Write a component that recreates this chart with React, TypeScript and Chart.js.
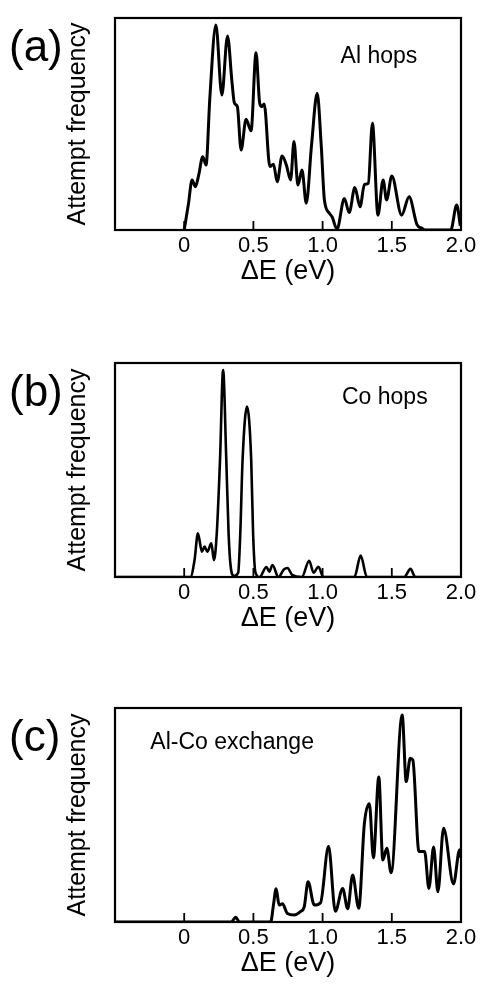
import React, { useEffect, useRef } from "react";
import { Chart, registerables } from "chart.js";

Chart.register(...registerables);

// ---- data (ΔE in eV, attempt frequency as fraction of panel height) ----
const aEnergy = [0.0, 0.03, 0.057, 0.081, 0.105, 0.134, 0.158, 0.185, 0.229, 0.272, 0.313, 0.345, 0.363, 0.384, 0.411, 0.447, 0.483, 0.519, 0.545, 0.559, 0.578, 0.619, 0.645, 0.672, 0.707, 0.738, 0.769, 0.793, 0.822, 0.851, 0.882, 0.92, 0.961, 0.99, 1.013, 1.049, 1.07, 1.104, 1.157, 1.192, 1.233, 1.271, 1.302, 1.33, 1.36, 1.4, 1.437, 1.462, 1.5, 1.571, 1.625, 1.682, 1.718, 1.74, 1.926, 1.969, 1.995];
const aFreq = [0.0, 0.12, 0.236, 0.204, 0.26, 0.346, 0.307, 0.62, 0.967, 0.637, 0.915, 0.7, 0.598, 0.582, 0.377, 0.522, 0.468, 0.836, 0.6, 0.582, 0.594, 0.299, 0.31, 0.228, 0.349, 0.307, 0.236, 0.417, 0.212, 0.283, 0.126, 0.4, 0.645, 0.4, 0.142, 0.079, 0.06, 0.003, 0.149, 0.082, 0.2, 0.11, 0.215, 0.22, 0.503, 0.07, 0.236, 0.142, 0.255, 0.07, 0.157, 0.025, 0.008, 0.0, 0.0, 0.118, 0.02];

const bEnergy = [-0.5, 0.045, 0.075, 0.099, 0.128, 0.147, 0.167, 0.196, 0.215, 0.235, 0.259, 0.281, 0.304, 0.321, 0.336, 0.36, 0.39, 0.405, 0.422, 0.454, 0.484, 0.498, 0.515, 0.545, 0.594, 0.615, 0.638, 0.68, 0.72, 0.746, 0.78, 0.85, 0.903, 0.935, 0.97, 1.005, 1.23, 1.275, 1.32, 1.59, 1.635, 1.67, 2.0];
const bFreq = [0.0, 0.0, 0.08, 0.204, 0.118, 0.142, 0.118, 0.157, 0.079, 0.2, 0.55, 0.967, 0.55, 0.2, 0.048, 0.005, 0.02, 0.2, 0.55, 0.796, 0.55, 0.2, 0.02, 0.0, 0.047, 0.025, 0.056, 0.0, 0.035, 0.042, 0.01, 0.0, 0.076, 0.02, 0.048, 0.0, 0.0, 0.1, 0.0, 0.0, 0.038, 0.0, 0.0];

const cEnergy = [-0.5, 0.34, 0.372, 0.4, 0.625, 0.645, 0.664, 0.686, 0.71, 0.746, 0.794, 0.842, 0.867, 0.895, 0.94, 0.985, 1.043, 1.092, 1.145, 1.181, 1.217, 1.261, 1.302, 1.338, 1.367, 1.406, 1.435, 1.464, 1.495, 1.575, 1.604, 1.633, 1.652, 1.696, 1.737, 1.768, 1.802, 1.833, 1.874, 1.946, 1.99, 2.0];
const cFreq = [0.0, 0.0, 0.022, 0.0, 0.0, 0.08, 0.155, 0.079, 0.085, 0.04, 0.033, 0.05, 0.07, 0.188, 0.079, 0.09, 0.354, 0.05, 0.157, 0.062, 0.22, 0.064, 0.461, 0.553, 0.3, 0.678, 0.29, 0.345, 0.23, 0.967, 0.656, 0.765, 0.757, 0.33, 0.33, 0.157, 0.35, 0.141, 0.438, 0.178, 0.338, 0.3];

const xTickValues = [0, 0.5, 1.0, 1.5, 2.0];
const xTickLabels = ["0", "0.5", "1.0", "1.5", "2.0"];
const panelLabels = ["(a)", "(b)", "(c)"];
const panelNotes = ["Al hops", "Co hops", "Al-Co exchange"];
const noteEnergy = [1.13, 1.14, -0.245];
const noteLevel = [0.82, 0.84, 0.836];

const FONT = '"Liberation Sans", Arial, Helvetica, sans-serif';

const framePlugin = {
  id: "frame",
  afterDraw(chart: any, _args: any, opts: any) {
    const { ctx, chartArea: ca, scales } = chart;
    ctx.save();
    ctx.strokeStyle = "#000";
    ctx.lineWidth = 2.2;
    ctx.strokeRect(ca.left, ca.top, ca.right - ca.left, ca.bottom - ca.top);
    ctx.lineWidth = 1.8;
    for (const v of xTickValues.slice(0, -1)) {
      const px = scales.x.getPixelForValue(v);
      ctx.beginPath();
      ctx.moveTo(px, ca.bottom);
      ctx.lineTo(px, ca.bottom - 9);
      ctx.stroke();
    }
    ctx.fillStyle = "#000";
    ctx.textBaseline = "middle";
    ctx.textAlign = "left";
    ctx.font = `44px ${FONT}`;
    ctx.fillText(opts.panel, 9, 49);
    ctx.font = `23px ${FONT}`;
    ctx.fillText(
      opts.note,
      scales.x.getPixelForValue(opts.noteX),
      scales.y.getPixelForValue(opts.noteY)
    );
    ctx.restore();
  },
};

type PanelProps = {
  energy: number[];
  freq: number[];
  idx: number;
  height: number;
  plotBottom: number;
  lineWidth: number;
};

function Panel({ energy, freq, idx, height, plotBottom, lineWidth }: PanelProps) {
  const ref = useRef<HTMLCanvasElement | null>(null);
  useEffect(() => {
    if (!ref.current) return;
    Chart.defaults.font.family = FONT;
    const data = energy.map((e, i) => ({ x: e, y: freq[i] }));
    const chart = new Chart(ref.current, {
      type: "line",
      data: {
        datasets: [
          {
            data,
            borderColor: "#000",
            borderWidth: lineWidth,
            pointRadius: 0,
            fill: false,
            cubicInterpolationMode: "monotone",
          },
        ],
      },
      options: {
        responsive: false,
        animation: false,
        devicePixelRatio: 1,
        layout: { padding: { left: 60, right: 22, top: 18, bottom: height - plotBottom - 58 } },
        plugins: {
          legend: { display: false },
          tooltip: { enabled: false },
          frame: {
            panel: panelLabels[idx],
            note: panelNotes[idx],
            noteX: noteEnergy[idx],
            noteY: noteLevel[idx],
          },
        } as any,
        scales: {
          x: {
            type: "linear",
            min: -0.5,
            max: 2.0,
            grid: { display: false, drawTicks: false },
            border: { display: false },
            afterBuildTicks: (s: any) => {
              s.ticks = xTickValues.map((v) => ({ value: v }));
            },
            afterFit: (s: any) => {
              s.height = 58;
            },
            ticks: {
              autoSkip: false,
              maxRotation: 0,
              padding: 3,
              color: "#000",
              font: { size: 22, family: FONT },
              callback: (v: any) => xTickLabels[xTickValues.indexOf(Number(v))] ?? "",
            },
            title: {
              display: true,
              text: "ΔE (eV)",
              color: "#000",
              font: { size: 27, family: FONT },
              padding: { top: 0, bottom: 0 },
            },
          },
          y: {
            type: "linear",
            min: 0,
            max: 1,
            grid: { display: false, drawTicks: false },
            border: { display: false },
            ticks: { display: false },
            afterFit: (s: any) => {
              s.width = 55;
            },
            title: {
              display: true,
              text: "Attempt frequency",
              color: "#000",
              font: { size: 25, family: FONT },
              padding: { top: 3, bottom: 0 },
            },
          },
        },
      },
      plugins: [framePlugin as any],
    });
    return () => chart.destroy();
  }, []);
  return <canvas ref={ref} width={483} height={height} style={{ display: "block", width: 483, height }} />;
}

export default function App() {
  return (
    <div style={{ position: "absolute", left: 0, top: 0, width: 483, height: 986, overflow: "hidden", background: "#fff" }}>
      <div style={{ position: "absolute", left: 0, top: 0 }}>
        <Panel energy={aEnergy} freq={aFreq} idx={0} height={345} plotBottom={230} lineWidth={3} />
      </div>
      <div style={{ position: "absolute", left: 0, top: 345 }}>
        <Panel energy={bEnergy} freq={bFreq} idx={1} height={345} plotBottom={232} lineWidth={2.6} />
      </div>
      <div style={{ position: "absolute", left: 0, top: 690 }}>
        <Panel energy={cEnergy} freq={cFreq} idx={2} height={296} plotBottom={232} lineWidth={3} />
      </div>
    </div>
  );
}
